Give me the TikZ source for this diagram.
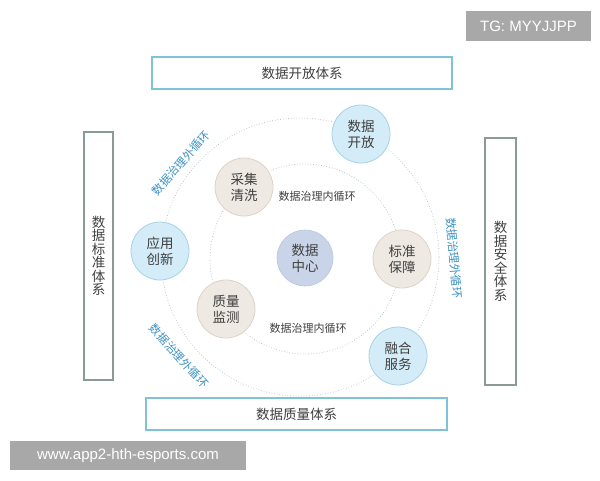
\documentclass[tikz,border=0pt]{standalone}
\usepackage{fontspec}
\setmainfont{Noto Sans CJK SC}
\newfontfamily\latinfont{Liberation Sans}
\definecolor{ringc}{HTML}{A9C1CC}
\definecolor{bluefill}{HTML}{D3ECF7}
\definecolor{blueedge}{HTML}{A6D3E6}
\definecolor{beigefill}{HTML}{EFE9E3}
\definecolor{beigeedge}{HTML}{DDD3C9}
\definecolor{centerfill}{HTML}{C9D4E8}
\definecolor{centeredge}{HTML}{B8C6DE}
\definecolor{txt}{HTML}{3F3F3F}
\definecolor{labelblue}{HTML}{3E93C2}
\definecolor{boxblue}{HTML}{7FC3D8}
\definecolor{boxgray}{HTML}{8A9A94}
\definecolor{wmgray}{HTML}{A8A8A8}
\begin{document}
\begin{tikzpicture}[x=1pt,y=-1pt,
  ring/.style={draw=ringc,line width=0.7pt,dotted},
  bluenode/.style={circle,draw=blueedge,fill=bluefill,line width=0.8pt,minimum size=58pt,inner sep=0pt,align=center,text=txt,font=\fontsize{13.5}{16}\selectfont},
  beigenode/.style={circle,draw=beigeedge,fill=beigefill,line width=0.8pt,minimum size=58pt,inner sep=0pt,align=center,text=txt,font=\fontsize{13.5}{16}\selectfont},
  centernode/.style={circle,draw=centeredge,fill=centerfill,line width=0.6pt,minimum size=56pt,inner sep=0pt,align=center,text=txt,font=\fontsize{13.5}{16}\selectfont},
  hbox/.style={draw=boxblue,line width=1.1pt,inner sep=0pt,text=txt,font=\fontsize{13.5}{15}\selectfont},
  vbox/.style={draw=boxgray,line width=1.1pt,inner sep=0pt,text=txt,font=\fontsize{13.5}{13.5}\selectfont,align=center},
  outerlabel/.style={text=labelblue,font=\fontsize{11.5}{13}\selectfont,inner sep=0.5pt},
  innerlabel/.style={text=txt,font=\fontsize{11}{13}\selectfont,inner sep=0.5pt},
  wm/.style={fill=wmgray,text=white,inner sep=0pt,font=\latinfont\fontsize{15}{17}\selectfont}
]
\useasboundingbox (0,0) rectangle (600,480);
\fill[white] (0,0) rectangle (600,480);

% rings
\draw[ring] (300,257) circle[radius=139pt];
\draw[ring] (305,259) circle[radius=95pt];

% boxes
\node[hbox,minimum width=300pt,minimum height=32pt] (top) at (302,73) {数据开放体系};
\node[hbox,minimum width=301pt,minimum height=32pt] (bottom) at (296.5,414) {数据质量体系};
\node[vbox,minimum width=29pt,minimum height=248pt] (left) at (98.5,256) {数\\据\\标\\准\\体\\系};
\node[vbox,minimum width=31pt,minimum height=247pt] (right) at (500.5,261.5) {数\\据\\安\\全\\体\\系};

% circle nodes
\node[centernode] (center) at (305,258) {数据\\中心};
\node[bluenode] (open) at (361,134) {数据\\开放};
\node[bluenode] (app) at (160,251) {应用\\创新};
\node[bluenode] (fuse) at (398,356) {融合\\服务};
\node[beigenode] (collect) at (244,187) {采集\\清洗};
\node[beigenode] (std) at (402,259) {标准\\保障};
\node[beigenode] (quality) at (226,309) {质量\\监测};

% ring labels
\node[outerlabel,rotate=49] (ol1) at (181,163) {数据治理外循环};
\node[outerlabel,rotate=-85] (ol2) at (454,258) {数据治理外循环};
\node[outerlabel,rotate=-48] (ol3) at (179,356) {数据治理外循环};
\node[innerlabel] (il1) at (317,196) {数据治理内循环};
\node[innerlabel] (il2) at (308,328) {数据治理内循环};

% watermarks
\node[wm,minimum width=125pt,minimum height=30pt] (tg) at (528.5,26) {TG: MYYJJPP};
\node[wm,minimum width=236pt,minimum height=29pt] (url) at (128,455.5) {www.app2-hth-esports.com};
\end{tikzpicture}
\end{document}
